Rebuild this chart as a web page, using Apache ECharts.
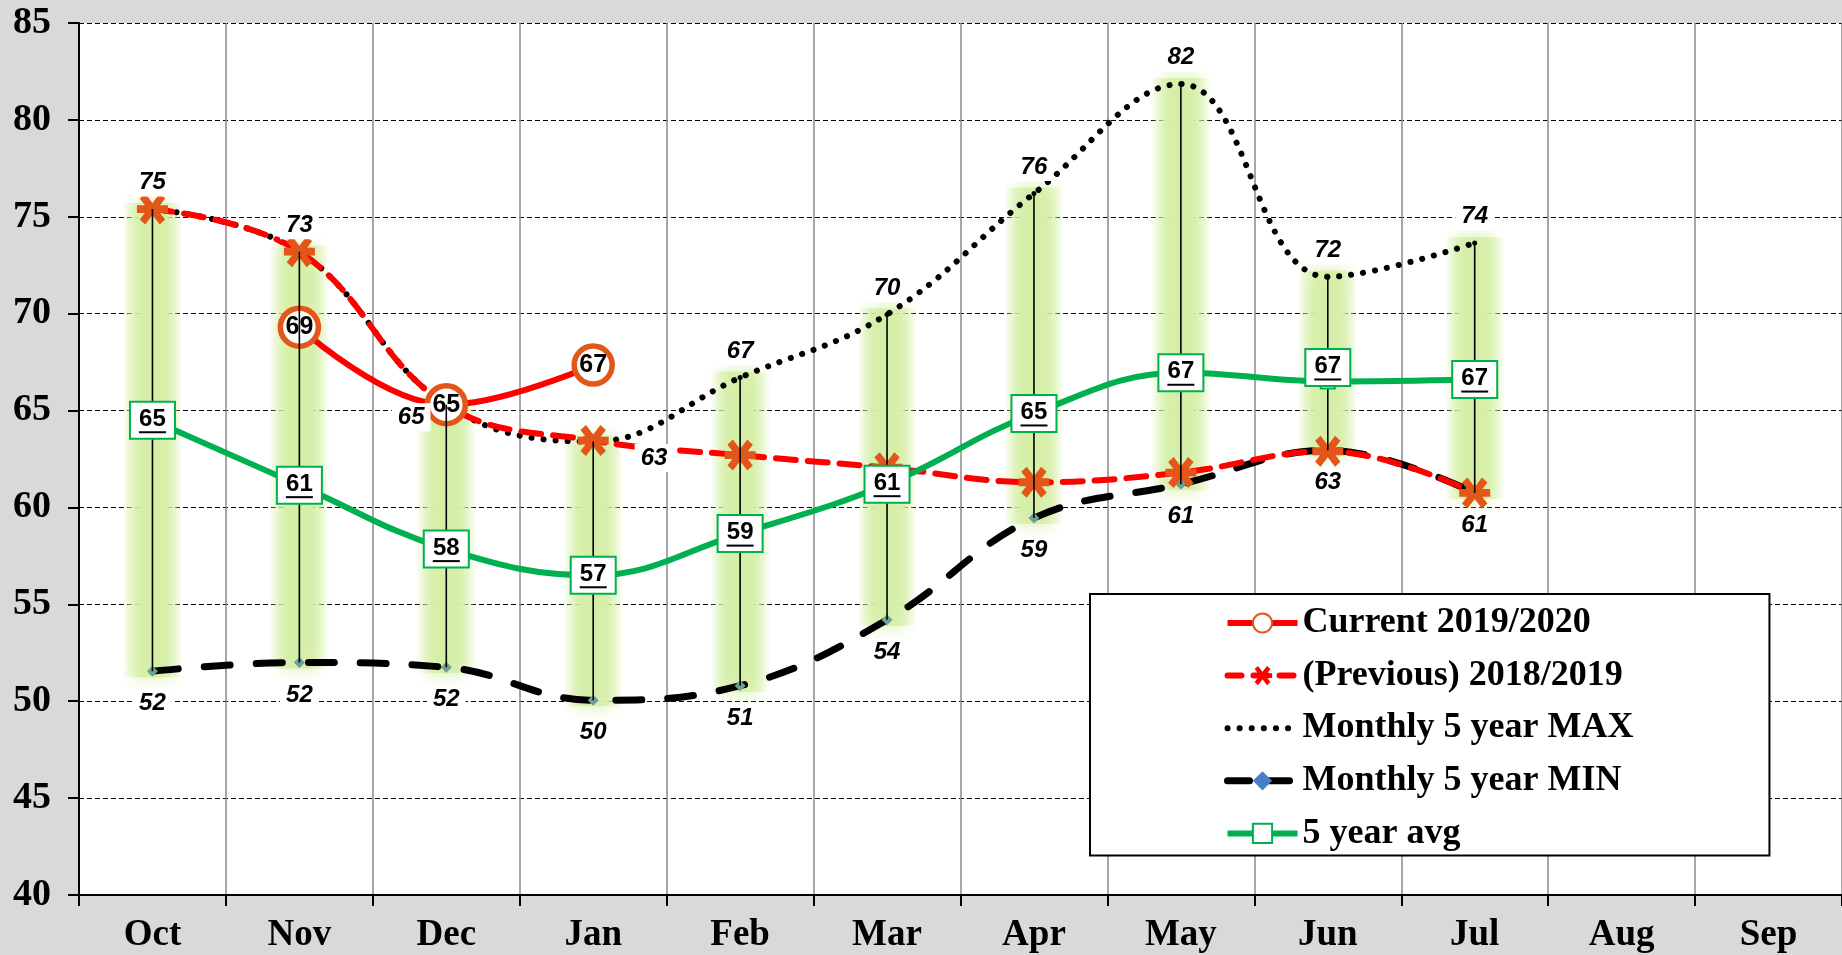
<!DOCTYPE html>
<html>
<head>
<meta charset="utf-8">
<script src="https://cdn.jsdelivr.net/npm/echarts@6/dist/echarts.min.js"></script>
<style>
  html, body { margin: 0; padding: 0; background: #d9d9d9; }
  #chart { width: 1842px; height: 955px; }
</style>
</head>
<body>
<div id="chart"></div>
<script>
// months of the marketing year
const months = ['Oct', 'Nov', 'Dec', 'Jan', 'Feb', 'Mar', 'Apr', 'May', 'Jun', 'Jul', 'Aug', 'Sep']

// values
const current = [null, 69.3, 65.3, 67.35, null, null, null, null, null, null, null, null]
const previous = [75.4, 73.2, 65.3, 63.45, 62.7, 62.05, 61.3, 61.8, 62.9, 60.75, null, null]
const max5 = [75.4, 73.2, 65.3, 63.4, 66.7, 69.96, 76.2, 81.85, 71.9, 73.65, null, null]
const min5 = [51.55, 52.0, 51.75, 50.05, 50.8, 54.2, 59.45, 61.2, 62.95, 60.75, null, null]
const avg5 = [64.5, 61.15, 57.85, 56.5, 58.65, 61.2, 64.85, 66.95, 66.5, 66.6, null, null]

const yTicks = { min: 40, max: 85, step: 5 }

const serif = 'Liberation Serif'
const sans = 'Liberation Sans'
const glowColor = '214,239,168'

// high-low ranges (max to min) per month
const ranges = max5.map((v, i) => (v == null ? null : [i, min5[i], v])).filter(Boolean)

// asterisk marker: X plus horizontal bar
const asteriskPath = (() => {
  const bar = (deg) => {
    const a = deg * Math.PI / 180
    const L = 10, W = 2.3
    const c = Math.cos(a), s = Math.sin(a)
    const pts = [[-L, -W], [L, -W], [L, W], [-L, W]].map(([x, y]) => [x * c - y * s, x * s + y * c])
    return 'M' + pts.map(p => p[0].toFixed(2) + ',' + p[1].toFixed(2)).join('L') + 'Z'
  }
  return 'path://' + bar(0) + bar(50) + bar(-50)
})()

const roundLabel = p => Math.round(p.value)

const chart = echarts.init(document.getElementById('chart'))

const option = {
  backgroundColor: '#d9d9d9',
  animation: false,
  grid: {
    left: 79,
    top: 23,
    width: 1770,
    bottom: 60,
    show: true,
    backgroundColor: '#ffffff',
    borderWidth: 0
  },
  legend: {
    orient: 'vertical',
    left: 1090,
    top: 594,
    backgroundColor: '#ffffff',
    borderColor: '#000000',
    borderWidth: 2,
    padding: [10, 136, 3, 134],
    itemWidth: 70,
    itemHeight: 24,
    itemGap: 14.6,
    textStyle: { fontFamily: serif, fontWeight: 'bold', fontSize: 36, lineHeight: 38, color: '#000' },
    data: [
      { name: 'Current 2019/2020', lineStyle: { width: 6 } },
      { name: '(Previous) 2018/2019', itemStyle: { color: '#ff0000' }, lineStyle: { width: 6, type: [14, 12] } },
      { name: 'Monthly 5 year MAX', itemStyle: { opacity: 0 }, lineStyle: { width: 6, type: [0.1, 12] } },
      { name: 'Monthly 5 year MIN', itemStyle: { color: '#4a7fc8' }, lineStyle: { width: 7, type: [22, 18] } },
      { name: '5 year avg', lineStyle: { width: 6 } }
    ]
  },
  xAxis: {
    type: 'category',
    data: months,
    boundaryGap: true,
    axisLine: { lineStyle: { color: '#000', width: 2 } },
    axisTick: { show: true, length: 11, interval: 0, lineStyle: { color: '#000', width: 2 } },
    axisLabel: { margin: 22, fontFamily: serif, fontWeight: 'bold', fontSize: 37, color: '#000', interval: 0 },
    splitLine: { show: true, interval: 0, lineStyle: { color: '#8a8a8a', width: 1.5 } }
  },
  yAxis: {
    type: 'value',
    min: yTicks.min,
    max: yTicks.max,
    interval: yTicks.step,
    axisLine: { show: true, lineStyle: { color: '#000', width: 2 } },
    axisTick: { show: true, length: 11, lineStyle: { color: '#000', width: 2 } },
    axisLabel: { margin: 28, fontFamily: serif, fontWeight: 'bold', fontSize: 38, color: '#000' },
    splitLine: { show: true, lineStyle: { color: '#000', width: 1.2, type: [5, 3] } }
  },
  series: [
    {
      name: 'glow',
      type: 'custom',
      z: 1,
      silent: true,
      data: ranges,
      renderItem: (params, api) => {
        const lo = api.coord([api.value(0), api.value(1)])
        const hi = api.coord([api.value(0), api.value(2)])
        const w = 60
        return {
          type: 'rect',
          shape: { x: hi[0] - w / 2, y: hi[1] - 6, width: w, height: lo[1] - hi[1] + 12 },
          style: {
            fill: {
              type: 'linear', x: 0, y: 0, x2: 1, y2: 0,
              colorStops: [
                { offset: 0, color: 'rgba(' + glowColor + ',0)' },
                { offset: 0.3, color: 'rgba(' + glowColor + ',0.85)' },
                { offset: 0.5, color: 'rgba(' + glowColor + ',1)' },
                { offset: 0.7, color: 'rgba(' + glowColor + ',0.85)' },
                { offset: 1, color: 'rgba(' + glowColor + ',0)' }
              ]
            },
            shadowBlur: 18,
            shadowColor: 'rgba(' + glowColor + ',1)'
          }
        }
      }
    },
    {
      name: 'Monthly 5 year MAX',
      type: 'line',
      z: 2,
      data: max5,
      smooth: 0.4,
      symbol: 'circle',
      symbolSize: 5,
      itemStyle: { color: '#000' },
      lineStyle: { color: '#000', width: 6, type: [0.1, 12], cap: 'round' },
      label: {
        show: true,
        position: 'top',
        distance: 10,
        formatter: roundLabel,
        fontFamily: sans,
        fontStyle: 'italic',
        fontWeight: 'bold',
        fontSize: 24,
        color: '#000',
        backgroundColor: '#fff',
        padding: [2, 6]
      },
      labelLayout: (p) => {
        if (p.dataIndex === 2) return { x: p.rect.x - 52, y: p.rect.y + 1 }
        if (p.dataIndex === 3) return { x: p.rect.x + 44, y: p.rect.y + 5 }
        return {}
      }
    },
    {
      name: 'Monthly 5 year MIN',
      type: 'line',
      z: 2,
      data: min5,
      smooth: 0.4,
      symbol: 'diamond',
      symbolSize: 11,
      itemStyle: { color: '#6e9e96' },
      lineStyle: { color: '#000', width: 7, type: [26, 26], cap: 'round' },
      label: {
        show: true,
        position: 'bottom',
        distance: 13,
        formatter: roundLabel,
        fontFamily: sans,
        fontStyle: 'italic',
        fontWeight: 'bold',
        fontSize: 24,
        color: '#000',
        backgroundColor: '#fff',
        padding: [2, 6]
      }
    },
    {
      name: '(Previous) 2018/2019',
      type: 'line',
      z: 2,
      data: previous,
      smooth: 0.4,
      symbol: asteriskPath,
      symbolSize: 31,
      itemStyle: { color: '#e2561a' },
      lineStyle: { color: '#ff0000', width: 6, type: [20, 12], cap: 'round' }
    },
    {
      name: 'Current 2019/2020',
      type: 'line',
      z: 2,
      data: current,
      smooth: 0.4,
      symbol: 'circle',
      symbolSize: 38,
      itemStyle: { color: '#ffffff', borderColor: '#e2561a', borderWidth: 5.5 },
      lineStyle: { color: '#ff0000', width: 6 },
      label: {
        show: true,
        position: 'inside',
        formatter: roundLabel,
        fontFamily: sans,
        fontWeight: 'bold',
        fontSize: 25,
        color: '#000'
      }
    },
    {
      name: 'range',
      type: 'custom',
      z: 3,
      silent: true,
      data: ranges,
      renderItem: (params, api) => {
        const lo = api.coord([api.value(0), api.value(1)])
        const hi = api.coord([api.value(0), api.value(2)])
        return {
          type: 'line',
          shape: { x1: hi[0], y1: hi[1], x2: lo[0], y2: lo[1] },
          style: { stroke: '#000', lineWidth: 1.6 }
        }
      }
    },
    {
      name: '5 year avg',
      type: 'line',
      z: 4,
      data: avg5.map((v, i) => (i === 8 ? { value: v, label: { offset: [0, -14] } } : v)),
      smooth: 0.4,
      symbol: 'rect',
      symbolSize: 14,
      itemStyle: { color: '#ffffff', borderColor: '#00b050', borderWidth: 2 },
      lineStyle: { color: '#00b050', width: 6 },
      label: {
        show: true,
        position: 'inside',
        formatter: p => '{t|' + Math.round(p.value) + '}\n{u|}',
        backgroundColor: '#fff',
        borderColor: '#00b050',
        borderWidth: 2,
        padding: [5, 8, 4, 8],
        rich: {
          t: { fontFamily: sans, fontWeight: 'bold', fontSize: 24, lineHeight: 23, color: '#000', align: 'center' },
          u: { width: 27, height: 2, lineHeight: 3, backgroundColor: '#000', align: 'center' }
        }
      }
    }
  ]
}

chart.setOption(option)
</script>
</body>
</html>
